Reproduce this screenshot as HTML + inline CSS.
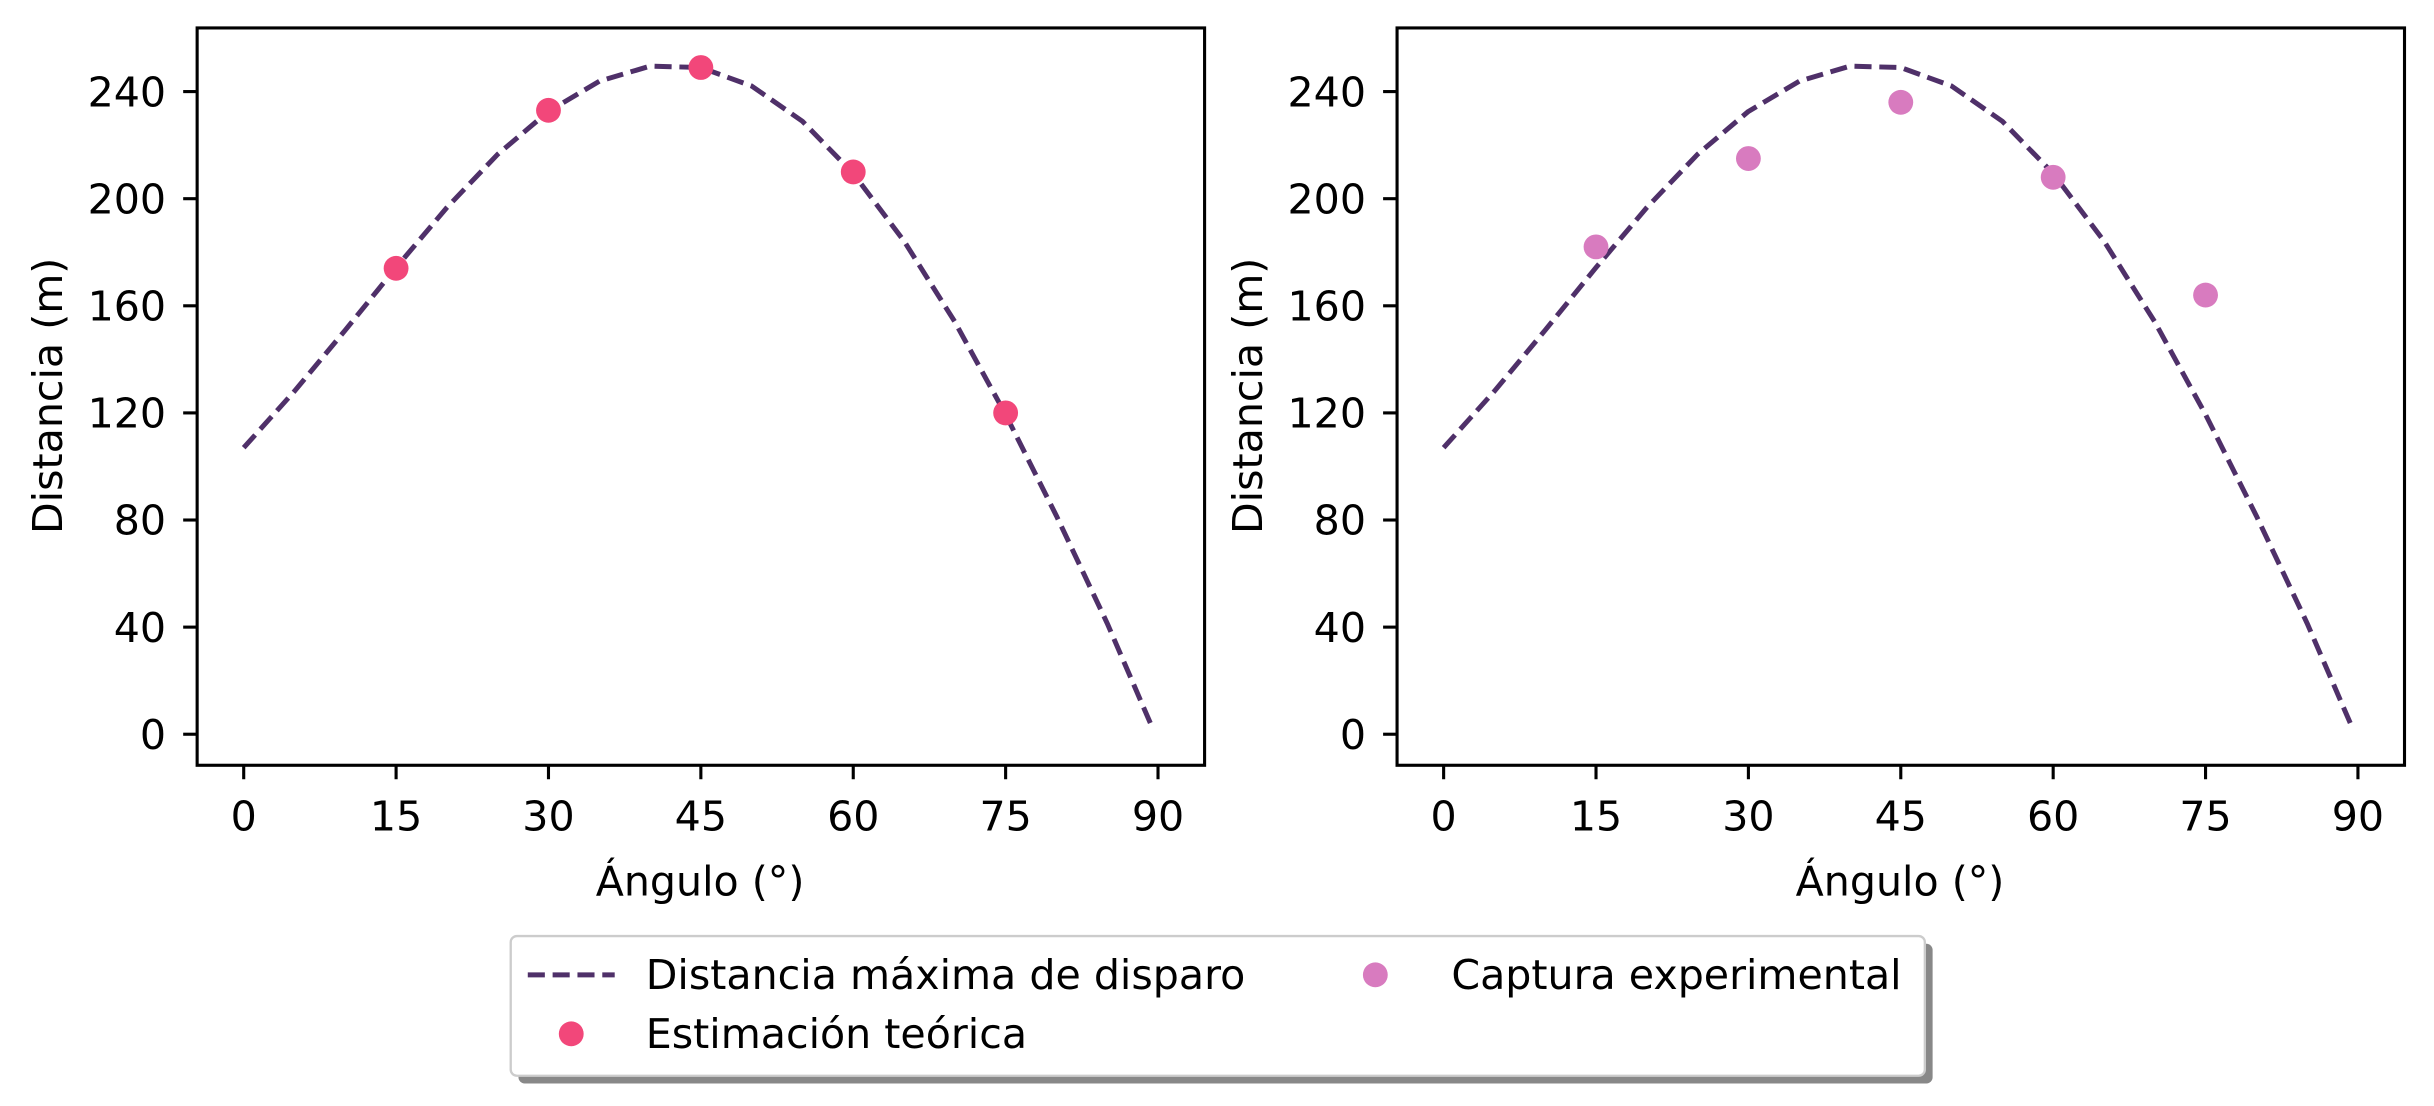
<!DOCTYPE html>
<html><head><meta charset="utf-8"><style>
body{margin:0;background:#fff;}
svg{display:block;font-family:"DejaVu Sans","Liberation Sans",sans-serif;}
</style></head><body>
<svg id="chart" width="2434" height="1106" viewBox="0 0 1568 712.5" preserveAspectRatio="none" xmlns="http://www.w3.org/2000/svg">
<rect width="1568" height="712.5" fill="#fff"/>
</svg>
<script>
const curveAngles=[0,5,10,15,20,25,30,35,40,45,50,55,60,65,70,75,80,85,89.5];
const curveDist=[107,128.1,150.9,174.3,196.7,216.6,232.6,243.9,249.5,249,242.1,228.9,209.4,184.2,154,119.4,81.5,41.4,2];
const pointAngles=[15,30,45,60,75];
const theoretical=[174,233,249,210,120];
const experimental=[182,215,236,208,164];
const xTicks=[0,15,30,45,60,75,90];
const yTicks=[0,40,80,120,160,200,240];

const FS=26.5;
const svg=document.getElementById('chart');
const NS='http://www.w3.org/2000/svg';
function mk(tag,attrs,parent){const e=document.createElementNS(NS,tag);for(const k in attrs)e.setAttribute(k,attrs[k]);(parent||svg).appendChild(e);return e;}

function panel(left,pts,color,name){
  const g=mk('g',{});
  
  
  const x0=left+30, xs=(589)/90;
  const X=v=>x0+v*xs, Y=v=>473-v*(414/240);
  const frame=mk('rect',{x:left,y:18,width:649,height:475,fill:'none',stroke:'#000','stroke-width':2},g);
  
  
  xTicks.forEach(t=>{
    mk('line',{x1:X(t),x2:X(t),y1:493,y2:502,stroke:'#000','stroke-width':2},g);
    const tx=mk('text',{x:X(t),y:535,'font-size':FS,'text-anchor':'middle'},g);
    tx.textContent=t;
    
    
  });
  yTicks.forEach(t=>{
    mk('line',{x1:left,x2:left-9,y1:Y(t),y2:Y(t),stroke:'#000','stroke-width':2},g);
    const tx=mk('text',{x:left-20,y:Y(t)+9.5,'font-size':FS,'text-anchor':'end'},g);
    tx.textContent=t;
    
    
  });
  const xl=mk('text',{x:left+324,y:577,'font-size':FS,'text-anchor':'middle'},g);
  xl.textContent='Ángulo (°)';
  
  
  const yl=mk('text',{x:0,y:0,'font-size':FS,'text-anchor':'middle',transform:`translate(${left-87},255) rotate(-90)`},g);
  yl.textContent='Distancia (m)';
  
  
  const d=curveAngles.map((a,i)=>(i?'L':'M')+X(a).toFixed(1)+','+Y(curveDist[i]).toFixed(1)).join(' ');
  const p=mk('path',{d:d,fill:'none',stroke:'#4f3069','stroke-width':3.2,'stroke-dasharray':'11,5','stroke-linejoin':'round'},g);
  
  
  pointAngles.forEach((a,i)=>{
    const c=mk('circle',{cx:X(a),cy:Y(pts[i]),r:8,fill:color},g);
    
    
  });
}
panel(127,theoretical,'#f2477a','left-panel');
panel(900,experimental,'#d87bbf','right-panel');

const lg=mk('g',{});


mk('rect',{x:334,y:608,width:911,height:90,rx:4,fill:'#888'},lg);
mk('rect',{x:329,y:603,width:911,height:90,rx:4,fill:'#fff',stroke:'#ccc','stroke-width':1.5},lg);
mk('line',{x1:340,x2:396,y1:628,y2:628,stroke:'#4f3069','stroke-width':3.2,'stroke-dasharray':'11,5'},lg);
mk('circle',{cx:368,cy:666,r:8,fill:'#f2477a'},lg);
mk('circle',{cx:886,cy:628,r:8,fill:'#d87bbf'},lg);
[['Distancia máxima de disparo',416,637],['Estimación teórica',416,675],['Captura experimental',935,637]].forEach(([t,x,y])=>{
  const e=mk('text',{x:x,y:y,'font-size':FS},lg);
  e.textContent=t;
  
  
});
</script>
</body></html>
